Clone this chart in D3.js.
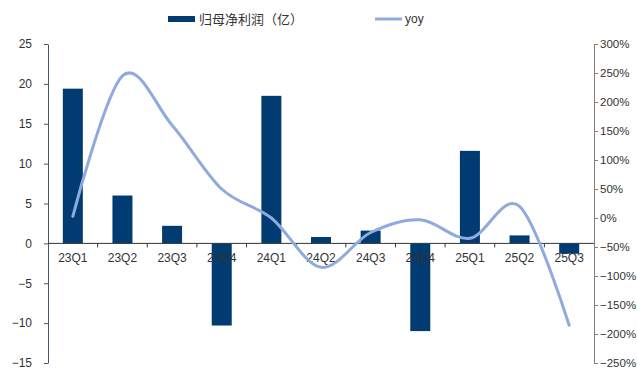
<!DOCTYPE html>
<html><head><meta charset="utf-8">
<script src="https://cdn.jsdelivr.net/npm/d3@7/dist/d3.min.js"></script>
<style>body{margin:0;background:#fff}svg{display:block}</style>
</head><body>
<svg id="c" width="637" height="376"></svg>
<script>
const categories = ["23Q1","23Q2","23Q3","23Q4","24Q1","24Q2","24Q3","24Q4","25Q1","25Q2","25Q3"];
const profit = [19.4, 6.0, 2.2, -10.3, 18.5, 0.8, 1.6, -11.0, 11.6, 1.0, -1.3];
const yoy = [3, 245, 160, 50, 0, -85, -25, -3, -35, 20, -185];
const leftTicks = [-15,-10,-5,0,5,10,15,20,25];
const rightTicks = [-250,-200,-150,-100,-50,0,50,100,150,200,250,300];

const svg = d3.select("#c");
const L = 48, R = 594, T = 44, B = 363;
const font = "'Liberation Sans', Arial, 'Noto Sans CJK SC', sans-serif";
const xb = d3.scaleBand().domain(categories).range([L, R]);
const yL = d3.scaleLinear().domain([-15, 25]).range([B, T]);
const yR = d3.scaleLinear().domain([-250, 300]).range([B, T]);

// bars
svg.append("g").selectAll("rect").data(categories).join("rect")
  .attr("x", d => xb(d) + xb.bandwidth()/2 - 10)
  .attr("width", 20)
  .attr("y", (d,i) => yL(Math.max(0, profit[i])))
  .attr("height", (d,i) => Math.abs(yL(profit[i]) - yL(0)))
  .attr("fill", "#003C71");

// left axis
const gl = svg.append("g").attr("transform", `translate(${L},0)`)
  .call(d3.axisLeft(yL).tickValues(leftTicks).tickSize(4).tickSizeOuter(0).tickFormat(d => d < 0 ? "\u2212" + Math.abs(d) : d));
gl.select(".domain").attr("stroke", "#44546A");
gl.selectAll(".tick line").attr("stroke", "#44546A");
gl.selectAll("text").attr("font-family", font).attr("font-size", 12).attr("fill", "#333").attr("x", -16);

// right axis
const gr = svg.append("g").attr("transform", `translate(${R},0)`)
  .call(d3.axisRight(yR).tickValues(rightTicks).tickSize(4).tickSizeOuter(0).tickFormat(d => (d < 0 ? "\u2212" + Math.abs(d) : d) + "%"));
gr.select(".domain").attr("stroke", "#808080");
gr.selectAll(".tick line").attr("stroke", "#808080");
gr.selectAll("text").attr("font-family", font).attr("font-size", 11.5).attr("fill", "#333").attr("x", 6);

// x axis
const gx = svg.append("g").attr("transform", `translate(0,${yL(0)})`);
gx.append("line").attr("x1", L).attr("x2", R).attr("stroke", "#333").attr("stroke-width", 1);
gx.selectAll("line.t").data(categories.slice(1)).join("line").attr("class","t")
  .attr("x1", d => xb(d)).attr("x2", d => xb(d)).attr("y1", 0).attr("y2", 4).attr("stroke", "#333");
gx.selectAll("text").data(categories).join("text")
  .attr("x", d => xb(d) + xb.bandwidth()/2).attr("y", 19)
  .attr("text-anchor", "middle").attr("font-family", font).attr("font-size", 12).attr("fill", "#333")
  .text(d => d);

// yoy line
const line = d3.line().x((d,i) => xb(categories[i]) + xb.bandwidth()/2).y(d => yR(d)).curve(d3.curveCardinal.tension(0));
svg.append("path").datum(yoy).attr("d", line).attr("fill", "none")
  .attr("stroke", "#8FAADC").attr("stroke-width", 3).attr("stroke-linecap", "round");

// legend
const lg = svg.append("g");
lg.append("rect").attr("x", 168).attr("y", 16).attr("width", 27).attr("height", 6).attr("fill", "#003C71");
lg.append("text").attr("x", 199).attr("y", 24).attr("font-family", "'Noto Sans CJK SC', sans-serif").attr("font-size", 13).attr("fill", "#333").text("归母净利润（亿）");
lg.append("line").attr("x1", 375).attr("x2", 402).attr("y1", 19).attr("y2", 19).attr("stroke", "#8FAADC").attr("stroke-width", 3);
lg.append("text").attr("x", 405).attr("y", 23).attr("font-family", font).attr("font-size", 12).attr("fill", "#333").text("yoy");
</script>
</body></html>
